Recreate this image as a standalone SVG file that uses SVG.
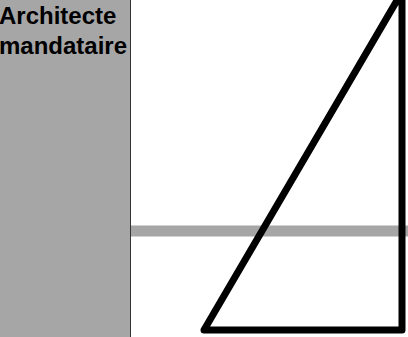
<svg xmlns="http://www.w3.org/2000/svg" width="408" height="337" viewBox="0 0 408 337">
<style>
.lbl{font-family:"Liberation Sans",Arial,sans-serif;font-weight:bold;font-size:24px;fill:#000}
</style>
<rect width="408" height="337" fill="#fff"/>
<g id="lane">
<rect x="0" y="0" width="130.5" height="337" fill="#a6a6a6"/>
<line x1="130.5" y1="0" x2="130.5" y2="337" stroke="#333" stroke-width="1"/>
<text class="lbl" x="-1" y="24">Architecte</text>
<text class="lbl" x="-1" y="54">mandataire</text>
</g>
<g id="connectors">
<line x1="131" y1="231" x2="408" y2="231" stroke="#a6a6a6" stroke-width="11"/>
</g>
<g id="shape">
<polygon points="204,330 399,-3 402,-3 402,330" fill="none" stroke="#000" stroke-width="7" stroke-linejoin="round"/>
</g>
</svg>
